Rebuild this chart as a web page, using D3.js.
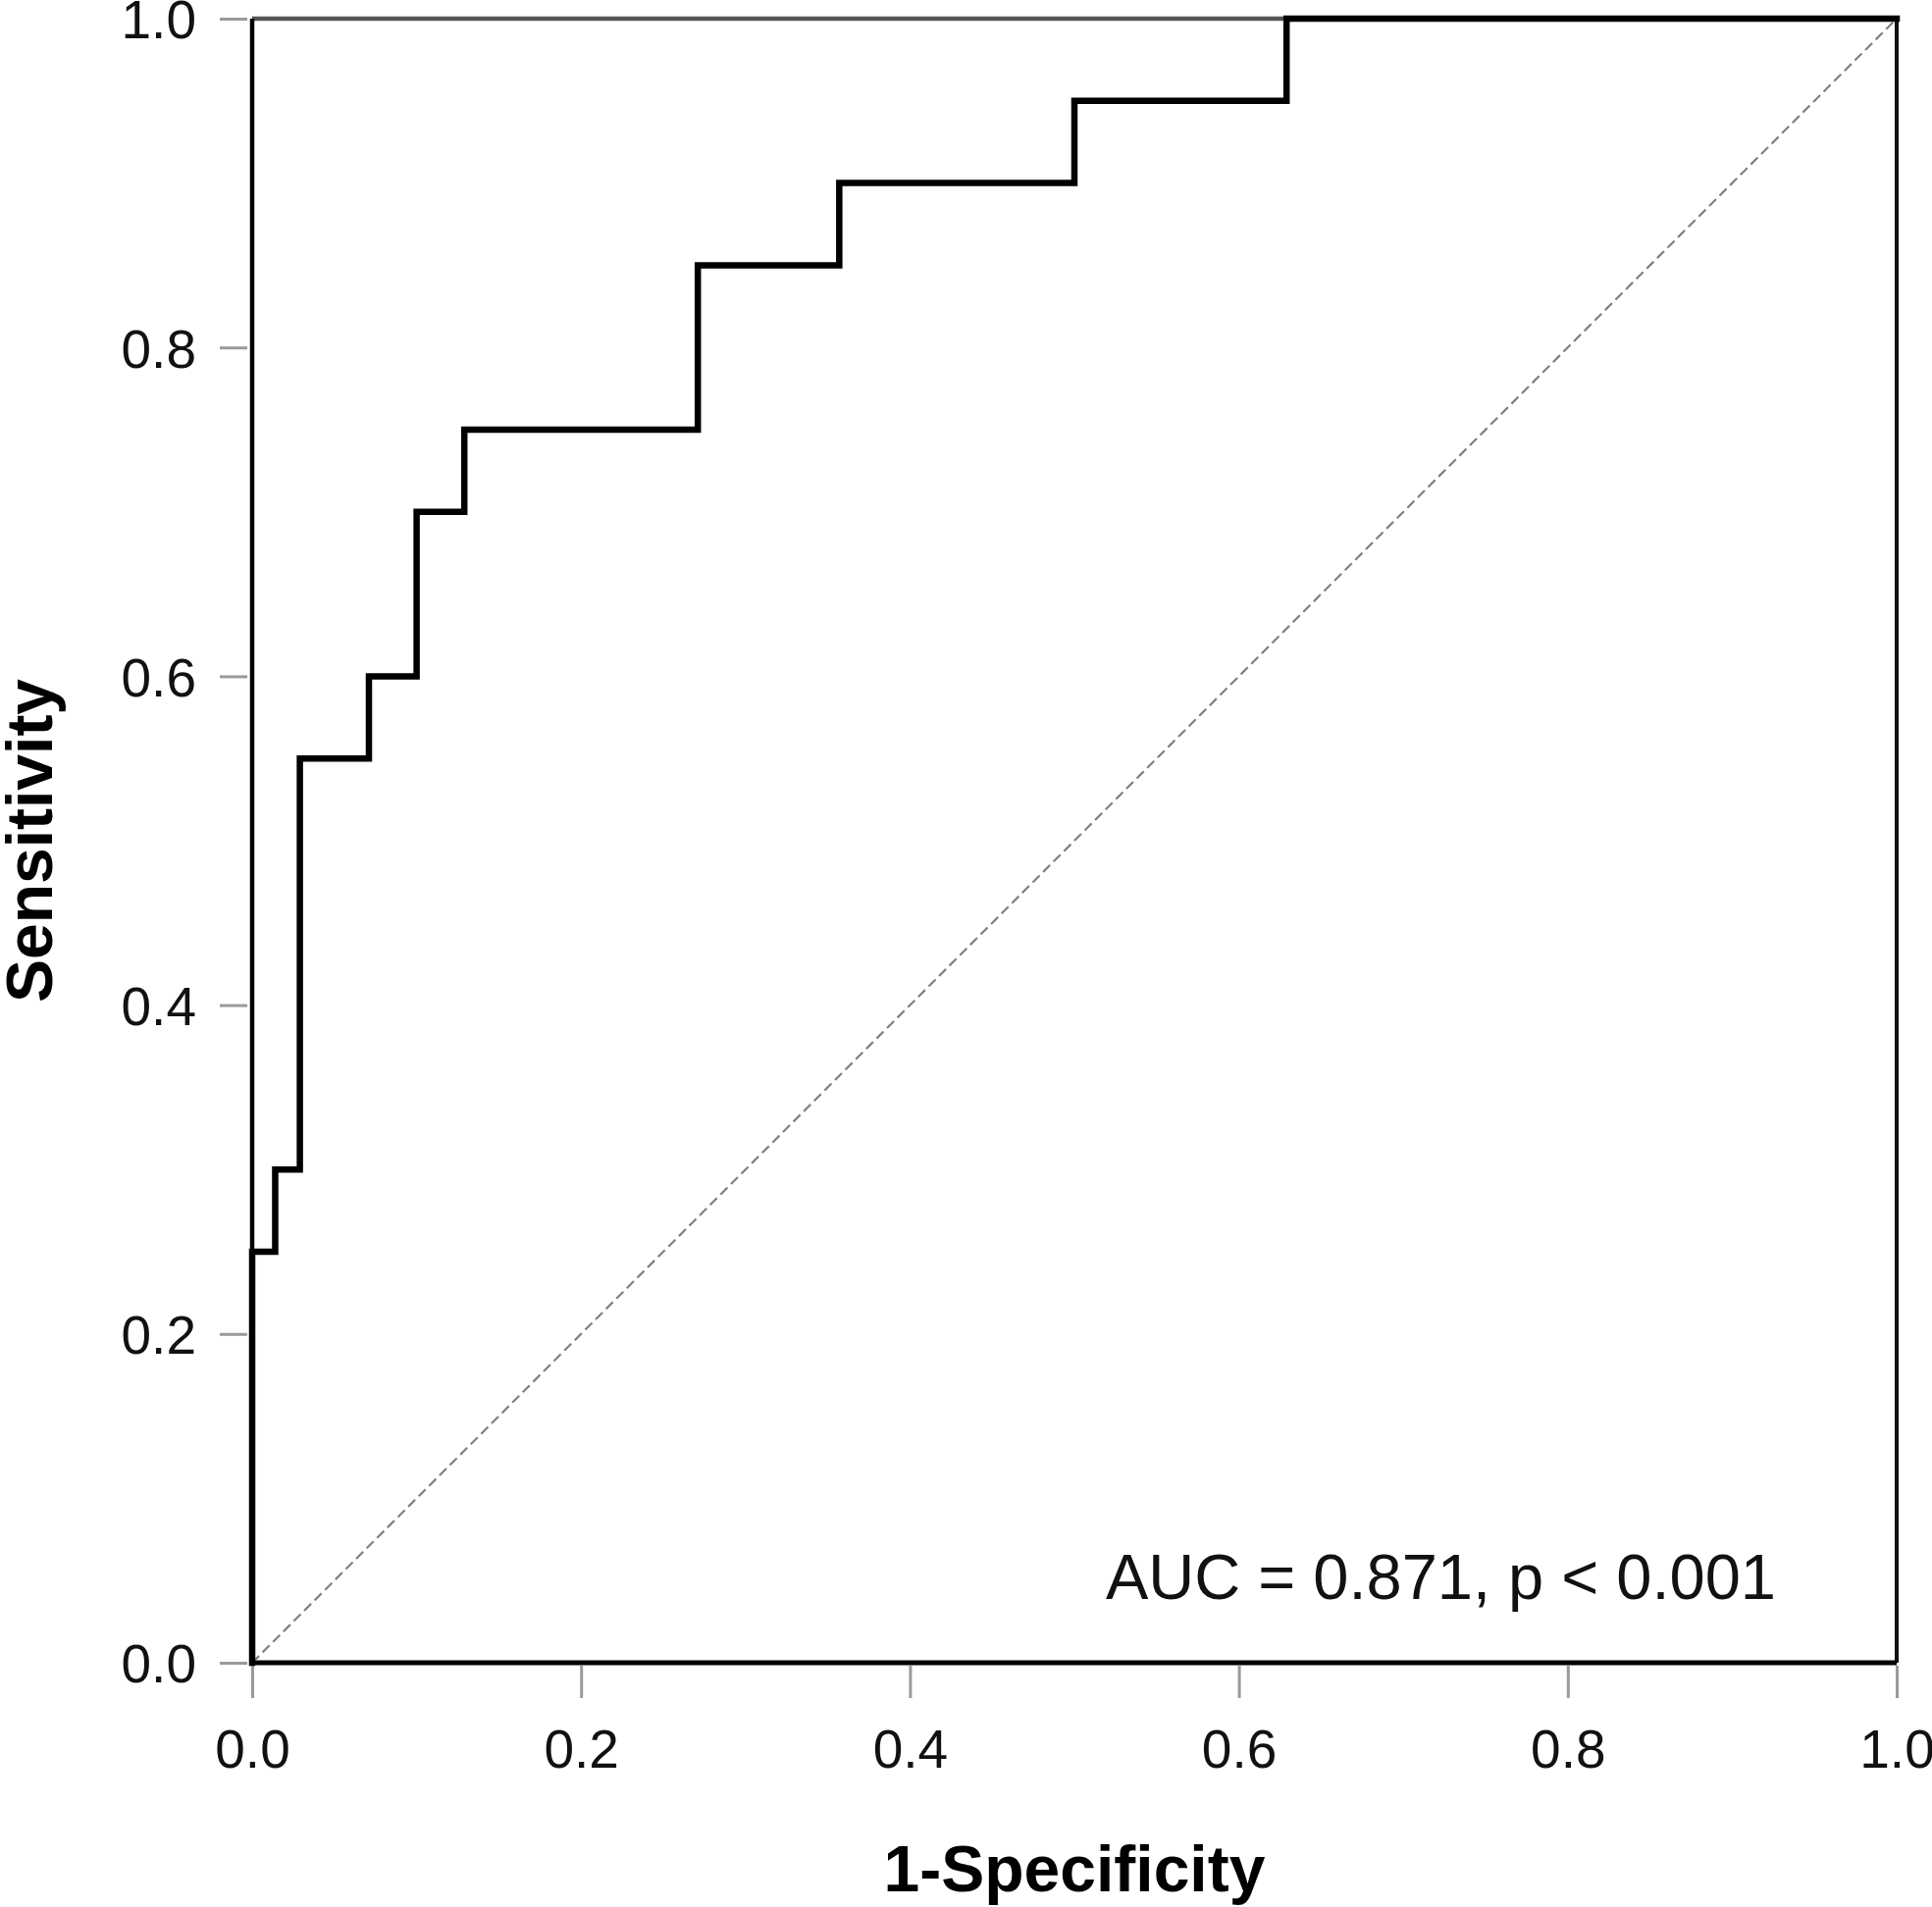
<!DOCTYPE html>
<html>
<head>
<meta charset="utf-8">
<script src="https://cdn.jsdelivr.net/npm/d3@7"></script>
<style>
  html, body { margin: 0; padding: 0; background: #fff; }
  svg { display: block; }
</style>
</head>
<body>
<svg id="chart" width="1969" height="1944"></svg>
<script>
// ROC curve corner points (1-Specificity, Sensitivity)
const fpr = [0, 0, 0.014, 0.029, 0.071, 0.100, 0.129, 0.271, 0.357, 0.500, 0.629, 1.0];
const tpr = [0, 0.25, 0.30, 0.55, 0.60, 0.70, 0.75, 0.85, 0.90, 0.95, 1.00, 1.00];
const tickValues = [0, 0.2, 0.4, 0.6, 0.8, 1.0];
const xTitle = "1-Specificity";
const yTitle = "Sensitivity";
const annotation = "AUC = 0.871, p < 0.001";

(function () {
  const svg = d3.select("#chart");
  const pLeft = 257, pRight = 1933, pTop = 19, pBottom = 1695;
  const x = d3.scaleLinear().domain([0, 1]).range([pLeft, pRight]);
  const y = d3.scaleLinear().domain([0, 1]).range([pBottom, pTop]);
  const fmt = d3.format(".1f");
  const font = "'Liberation Sans', Arial, sans-serif";

  // Y axis ticks
  const yAxis = svg.append("g").attr("transform", `translate(${pLeft - 5},0)`)
    .call(d3.axisLeft(y).tickValues(tickValues).tickFormat(fmt).tickSize(28).tickPadding(24));
  yAxis.select(".domain").remove();
  yAxis.selectAll(".tick line").attr("stroke", "#9a9a9a").attr("stroke-width", 3);
  yAxis.selectAll(".tick text").attr("font-family", font).attr("font-size", 55)
    .attr("fill", "#111").attr("dy", "0.36em");

  // X axis ticks
  const xAxis = svg.append("g").attr("transform", `translate(0,${pBottom + 3})`)
    .call(d3.axisBottom(x).tickValues(tickValues).tickFormat(fmt).tickSize(33).tickPadding(32));
  xAxis.select(".domain").remove();
  xAxis.selectAll(".tick line").attr("stroke", "#9a9a9a").attr("stroke-width", 3);
  xAxis.selectAll(".tick text").attr("font-family", font).attr("font-size", 55)
    .attr("fill", "#111").attr("dy", "0.71em");

  // Frame
  svg.append("line").attr("x1", x(0)).attr("x2", x(1)).attr("y1", y(1)).attr("y2", y(1))
    .attr("stroke", "#555").attr("stroke-width", 4.5);
  svg.append("line").attr("x1", x(1)).attr("x2", x(1)).attr("y1", y(1)).attr("y2", y(0))
    .attr("stroke", "#111").attr("stroke-width", 4);
  svg.append("line").attr("x1", x(0)).attr("x2", x(1)).attr("y1", y(0)).attr("y2", y(0))
    .attr("stroke", "#000").attr("stroke-width", 5);
  svg.append("line").attr("x1", x(0)).attr("x2", x(0)).attr("y1", y(1)).attr("y2", y(0))
    .attr("stroke", "#000").attr("stroke-width", 4.5);

  // Reference diagonal
  svg.append("line").attr("x1", x(0)).attr("y1", y(0)).attr("x2", x(1)).attr("y2", y(1))
    .attr("stroke", "#808080").attr("stroke-width", 2.2).attr("stroke-dasharray", "10,5");

  // ROC curve
  const pts = fpr.map((f, i) => [f, tpr[i]]);
  const line = d3.line().x(d => x(d[0])).y(d => y(d[1])).curve(d3.curveStepAfter);
  svg.append("path").attr("d", line(pts)).attr("fill", "none")
    .attr("stroke", "#000").attr("stroke-width", 6.5).attr("stroke-linejoin", "miter")
    .attr("stroke-linecap", "square");

  // Annotation
  svg.append("text").attr("x", 1127).attr("y", 1630)
    .attr("font-family", font).attr("font-size", 65).attr("fill", "#111")
    .text(annotation);

  // Axis titles
  svg.append("text").attr("x", (pLeft + pRight) / 2).attr("y", 1928)
    .attr("text-anchor", "middle").attr("font-family", font)
    .attr("font-weight", "bold").attr("font-size", 66).attr("fill", "#000").text(xTitle);
  svg.append("text").attr("transform", `translate(53,${(pTop + pBottom) / 2}) rotate(-90)`)
    .attr("text-anchor", "middle").attr("font-family", font)
    .attr("font-weight", "bold").attr("font-size", 66).attr("fill", "#000").text(yTitle);
})();
</script>
</body>
</html>
